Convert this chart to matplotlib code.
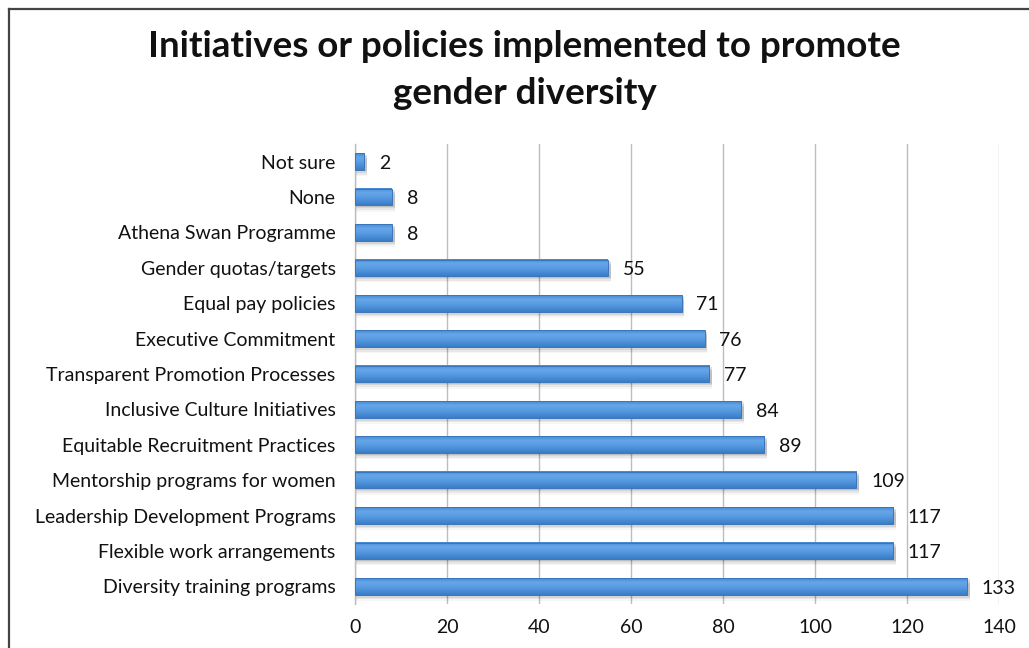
import numpy as np
import matplotlib.pyplot as plt
from matplotlib.patches import Rectangle
from matplotlib.lines import Line2D
from matplotlib.colors import LinearSegmentedColormap

categories = [
    "Not sure",
    "None",
    "Athena Swan Programme",
    "Gender quotas/targets",
    "Equal pay policies",
    "Executive Commitment",
    "Transparent Promotion Processes",
    "Inclusive Culture Initiatives",
    "Equitable Recruitment Practices",
    "Mentorship programs for women",
    "Leadership Development Programs",
    "Flexible work arrangements",
    "Diversity training programs",
]
counts = [2, 8, 8, 55, 71, 76, 77, 84, 89, 109, 117, 117, 133]
x_ticks = [0, 20, 40, 60, 80, 100, 120, 140]

plt.rcParams["font.family"] = ["Lato", "DejaVu Sans"]

W, H = 1029, 648
fig = plt.figure(figsize=(W / 100, H / 100), dpi=100)
ax = fig.add_axes([355 / W, 44 / H, 644 / W, 460 / H])

# outer chart frame: only the left and top edges fall inside the image
fx, fy = 8.5 / W, 1 - 8.5 / H
fig.add_artist(Line2D([fx, fx], [0, fy], transform=fig.transFigure,
                      color="#444444", linewidth=1.6, zorder=10))
fig.add_artist(Line2D([fx, 1], [fy, fy], transform=fig.transFigure,
                      color="#444444", linewidth=1.6, zorder=10))

n = len(categories)
y = np.arange(n)[::-1]
h = 0.47

grad = LinearSegmentedColormap.from_list(
    "bar", ["#4588d2", "#67a7ea", "#5a9de3", "#4a8ed7", "#3a7cc6"])
gimg = np.linspace(0, 1, 64).reshape(-1, 1)

for yi, v in zip(y, counts):
    # soft drop shadow under each bar
    for k, a in enumerate([0.10, 0.08, 0.06, 0.035]):
        off = 0.04 + k * 0.045
        ax.add_patch(Rectangle((0.2, yi - h / 2 - off), v + 0.4, h,
                               facecolor="#000000", alpha=a,
                               edgecolor="none", zorder=2))
    ax.imshow(gimg, extent=[0, v, yi - h / 2, yi + h / 2], cmap=grad,
              aspect="auto", origin="upper", zorder=3, interpolation="bicubic")
    ax.add_patch(Rectangle((0, yi - h / 2), v, h, fill=False,
                           edgecolor="#3a76bb", linewidth=0.7, zorder=4))
    ax.text(v + 3.2, yi - 0.05, str(v), va="center", ha="left",
            fontsize=14, color="#111111", zorder=5)

ax.set_xlim(0, 140)
ax.set_ylim(-0.5, n - 0.5)
ax.set_yticks(y)
ax.set_yticklabels(categories, fontsize=14, color="#111111")
ax.set_xticks(x_ticks)
ax.set_xticklabels([str(t) for t in x_ticks], fontsize=14, color="#111111")
ax.tick_params(axis="both", length=0)
ax.tick_params(axis="y", pad=14)
ax.tick_params(axis="x", pad=11)

ax.grid(axis="x", color="#bdbdbd", linewidth=1.0, zorder=0)
ax.set_axisbelow(True)
for side in ["top", "right", "bottom"]:
    ax.spines[side].set_visible(False)
ax.spines["left"].set_color("#bdbdbd")
ax.spines["left"].set_linewidth(1.0)

fig.text(0.51, 1 - 70 / H, "Initiatives or policies implemented to promote\ngender diversity",
         ha="center", va="center", fontsize=26.5, fontweight="bold",
         color="#111111", linespacing=1.5)

fig.savefig("out.png", dpi=100)
